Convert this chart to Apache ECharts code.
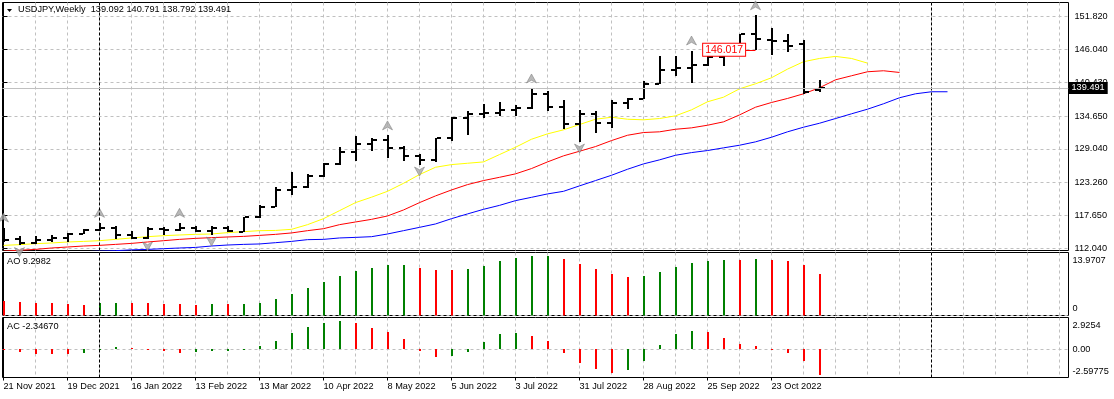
<!DOCTYPE html>
<html>
<head>
<meta charset="utf-8">
<title>USDJPY Weekly</title>
<script src="https://cdn.jsdelivr.net/npm/echarts@6/dist/echarts.min.js"></script>
<style>
html, body { margin: 0; padding: 0; background: #fff; }
#chart { width: 1114px; height: 399px; }
</style>
</head>
<body>
<div id="chart"></div>
<script>
// weekly bars, 21 Nov 2021 .. 13 Nov 2022 (index = week number)
const opens  = [114.05,113.60,112.85,113.45,113.70,114.45,115.10,115.55,114.20,113.75,
                115.25,115.20,115.40,114.95,115.50,114.85,117.30,119.15,122.05,122.50,
                124.35,126.45,128.45,129.80,130.55,129.25,127.85,127.10,130.85,134.40,
                134.95,135.20,135.70,136.10,138.45,136.15,133.30,135.00,133.45,136.85,
                137.60,140.20,142.55,142.90,143.35,144.75,145.30,148.65,147.70,147.60,
                147.00,139.092];
const highs  = [115.55,114.10,114.05,114.30,114.55,115.25,116.35,115.80,114.95,115.70,
                115.70,116.35,115.80,115.80,115.80,117.30,119.45,122.45,125.10,124.75,
                126.60,129.35,131.25,130.85,131.35,129.60,128.15,130.95,134.50,135.60,
                136.75,137.00,136.55,139.39,138.90,137.50,135.70,135.60,137.40,137.75,
                140.75,145.00,145.00,145.90,144.90,145.35,148.80,151.94,149.70,148.80,
                147.65,140.791];
const lows   = [113.15,112.55,112.70,113.10,113.15,114.40,115.00,113.50,113.50,113.50,
                114.20,114.90,114.75,114.35,114.80,114.80,117.20,119.10,121.20,122.40,
                124.15,126.35,126.90,128.70,127.50,126.90,126.35,126.85,130.45,131.40,
                134.25,134.60,134.75,135.85,135.60,132.45,130.30,131.75,132.55,135.80,
                137.55,140.10,141.60,140.30,143.20,143.30,145.30,146.05,145.10,145.70,
                138.50,138.792];
const closes = [113.40,112.85,113.45,113.70,114.40,115.10,115.55,114.20,113.75,115.25,
                115.20,115.40,114.95,115.50,114.90,117.30,119.15,122.05,122.50,124.35,
                126.45,128.45,129.80,130.55,129.25,127.85,127.10,130.85,134.40,134.95,
                135.20,135.70,136.10,138.50,136.15,133.30,135.00,133.45,136.85,137.60,
                140.20,142.55,142.90,143.35,144.75,145.30,148.70,147.85,147.50,146.70,
                138.85,139.491];

// alligator lines (shifted into the future)
const jaw   = [110.90,111.00,111.10,111.20,111.30,111.40,111.50,111.58,111.72,111.80,
               111.92,112.04,112.14,112.38,112.55,112.66,112.73,112.95,113.17,113.47,
               113.52,113.76,113.86,113.98,114.44,115.01,115.58,116.16,117.07,117.88,
               118.67,119.35,120.16,120.73,121.31,121.76,122.69,123.60,124.51,125.54,
               126.46,127.15,127.94,128.40,128.75,129.21,129.66,130.24,131.03,131.96,
               132.75,133.43,134.24,135.05,135.84,136.77,137.80,138.48,138.83,138.83];
const teeth = [111.50,111.65,111.80,112.04,112.21,112.38,112.49,112.66,112.83,113.07,
               113.29,113.52,113.69,113.81,113.93,114.03,114.20,114.38,114.62,115.01,
               115.35,116.04,116.50,116.95,117.53,118.56,119.82,120.97,121.99,122.91,
               123.60,124.16,124.75,125.66,126.80,127.84,128.63,129.43,130.46,131.37,
               131.84,131.96,132.40,132.64,133.09,133.67,134.86,136.18,136.99,137.68,
               138.48,139.51,140.88,141.57,142.26,142.43,142.14];
const lips  = [112.49,112.61,112.78,112.90,113.07,113.17,113.29,113.52,113.76,113.98,
               114.15,114.27,114.38,114.44,114.67,114.84,115.01,115.05,115.24,116.04,
               117.07,118.44,119.82,120.75,121.76,123.13,124.63,125.88,126.34,126.57,
               126.80,128.06,129.31,130.69,131.61,132.30,133.21,134.12,134.46,134.12,
               134.02,134.24,134.70,135.73,137.11,137.90,139.33,140.20,141.23,142.71,
               143.98,144.54,144.89,144.54,143.74];

const fractalUp = [0, 6, 11, 24, 33, 43, 47];
const fractalDown = [1, 9, 13, 26, 36];

const aoValues = [3.21,2.99,2.86,2.84,2.62,2.40,2.83,2.88,2.85,2.83,
                  2.63,2.60,2.40,2.60,2.58,2.62,2.85,3.73,4.84,6.17,
                  7.50,8.83,9.94,10.61,11.27,11.30,10.61,10.18,10.14,10.38,
                  11.05,12.16,12.82,13.27,13.30,12.60,11.49,10.38,9.28,8.61,
                  8.83,9.72,10.83,11.71,12.16,12.38,12.36,12.60,12.38,12.16,
                  11.27,9.2982];
const acValues = [-0.06,-0.25,-0.42,-0.44,-0.46,-0.34,-0.06,0.18,0.09,0.06,
                  -0.15,-0.34,-0.25,-0.15,-0.12,-0.06,0.28,0.74,1.47,2.02,
                  2.39,2.58,2.39,1.93,1.56,0.92,-0.18,-0.74,-0.64,-0.28,
                  0.64,1.38,1.47,1.20,0.74,-0.37,-1.29,-1.84,-2.21,-1.93,
                  -1.10,0.37,1.38,1.66,1.56,1.01,0.46,0.28,-0.03,-0.37,
                  -1.10,-2.3467];

const priceTicks = [112.04, 117.65, 123.26, 129.04, 134.65, 140.43, 146.04, 151.82];
const aoTicks = [0, 13.9707];
const aoTickLabels = ['0', '13.9707'];
const acTicks = [-2.59775, 0, 2.9254];
const acTickLabels = ['-2.59775', '0.00', '2.9254'];
const dateTicks = [0, 4, 8, 12, 16, 20, 24, 28, 32, 36, 40, 44, 48];
const dateLabels = ['21 Nov 2021', '19 Dec 2021', '16 Jan 2022', '13 Feb 2022', '13 Mar 2022',
                    '10 Apr 2022', '8 May 2022', '5 Jun 2022', '3 Jul 2022', '31 Jul 2022',
                    '28 Aug 2022', '25 Sep 2022', '23 Oct 2022'];
const yearSeparators = [6, 58];
const labelLevel = 146.017;

const FONT = 'Liberation Sans';
const FS = 9.2;
const GREEN = '#008000';
const RED = '#ff0000';
const GRID_GREY = '#c0c0c0';

const n = closes.length;
const last = n - 1;

// every second week gets a vertical grid line
const gridWeeks = [];
for (let w = 2; w <= 66; w += 2) gridWeeks.push(w);

const ohlcData = closes.map((c, i) => [i, opens[i], highs[i], lows[i], c]);
const toPairs = arr => arr.map((v, i) => [i, v]);
const withTrend = arr => arr.map((v, i) => [i, v, i > 0 && v > arr[i - 1] ? 1 : 0]);

function renderOhlc(params, api) {
    const i = api.value(0);
    const o = api.coord([i, api.value(1)]);
    const h = api.coord([i, api.value(2)]);
    const l = api.coord([i, api.value(3)]);
    const c = api.coord([i, api.value(4)]);
    const x = Math.round(h[0]) - 1;
    const yh = Math.round(h[1]);
    const yl = Math.round(l[1]);
    return {
        type: 'group',
        children: [
            {type: 'rect', shape: {x: x, y: yh, width: 2, height: Math.max(1, yl - yh)}, style: {fill: '#000'}},
            {type: 'rect', shape: {x: x - 4, y: Math.round(o[1]) - 1, width: 4, height: 2}, style: {fill: '#000'}},
            {type: 'rect', shape: {x: x + 2, y: Math.round(c[1]) - 1, width: 4, height: 2}, style: {fill: '#000'}}
        ]
    };
}

function renderHist(params, api) {
    const i = api.value(0);
    const p0 = api.coord([i, 0]);
    const p1 = api.coord([i, api.value(1)]);
    const y0 = Math.round(Math.min(p0[1], p1[1]));
    const y1 = Math.round(Math.max(p0[1], p1[1]));
    return {
        type: 'rect',
        shape: {x: Math.round(p0[0]) - 1, y: y0, width: 2, height: Math.max(1, y1 - y0)},
        style: {fill: api.value(2) ? GREEN : RED}
    };
}

function xAxisFor(gridIndex) {
    return {
        type: 'value', gridIndex: gridIndex, min: -0.0625, max: 66.5625,
        axisLine: {show: false},
        axisLabel: {show: false},
        axisTick: {show: false, customValues: gridWeeks},
        splitLine: {show: true, lineStyle: {color: GRID_GREY, type: [3, 3], width: 1}}
    };
}

const separatorLines = yearSeparators.map(w => ({
    xAxis: w,
    lineStyle: {color: '#000', type: [3, 2], width: 1},
    label: {show: false}
}));

const labelText = {fontFamily: FONT, fontSize: FS, color: '#000'};

const option = {
    animation: false,
    backgroundColor: '#fff',
    textStyle: {fontFamily: FONT},
    title: [
        {
            text: 'USDJPY,Weekly  ' + [opens[last], highs[last], lows[last], closes[last]].map(v => v.toFixed(3)).join(' '),
            left: 18, top: 4.5, padding: 0,
            textStyle: {fontFamily: FONT, fontSize: FS, fontWeight: 'normal', color: '#000'}
        },
        {
            text: 'AO ' + aoValues[last].toFixed(4),
            left: 7, top: 256.5, padding: 0,
            textStyle: {fontFamily: FONT, fontSize: FS, fontWeight: 'normal', color: '#000'}
        },
        {
            text: 'AC ' + acValues[last].toFixed(5),
            left: 7, top: 321.5, padding: 0,
            textStyle: {fontFamily: FONT, fontSize: FS, fontWeight: 'normal', color: '#000'}
        }
    ],
    graphic: [
        {type: 'polygon', shape: {points: [[7, 9], [12, 9], [9.5, 12]]}, style: {fill: '#000'}}
    ],
    grid: [
        {left: 2.5, top: 2.5, width: 1066, height: 248, show: true, borderColor: '#000', borderWidth: 1, backgroundColor: 'transparent', containLabel: false, outerBoundsMode: 'none'},
        {left: 2.5, top: 252.5, width: 1066, height: 63, show: true, borderColor: '#000', borderWidth: 1, backgroundColor: 'transparent', containLabel: false, outerBoundsMode: 'none'},
        {left: 2.5, top: 317.5, width: 1066, height: 60, show: true, borderColor: '#000', borderWidth: 1, backgroundColor: 'transparent', containLabel: false, outerBoundsMode: 'none'}
    ],
    xAxis: [
        xAxisFor(0),
        xAxisFor(1),
        xAxisFor(2),
        {
            type: 'value', gridIndex: 2, position: 'bottom', min: -0.0625, max: 66.5625,
            axisLine: {show: false},
            splitLine: {show: false},
            axisTick: {show: true, length: 3, customValues: dateTicks, lineStyle: {color: '#000'}},
            axisLabel: Object.assign({
                show: true, customValues: dateTicks, align: 'left', margin: 4,
                formatter: v => dateLabels[dateTicks.indexOf(v)]
            }, labelText)
        }
    ],
    yAxis: [
        {
            type: 'value', gridIndex: 0, position: 'right', min: 111.61, max: 154.135,
            axisLine: {show: true, lineStyle: {color: '#000'}},
            axisTick: {show: true, length: 4, customValues: priceTicks, lineStyle: {color: '#000'}},
            axisLabel: Object.assign({customValues: priceTicks, margin: 6, formatter: v => v.toFixed(3)}, labelText),
            splitLine: {show: true, lineStyle: {color: GRID_GREY, type: [3, 3], width: 1}}
        },
        {
            type: 'value', gridIndex: 1, position: 'right', min: 0, max: 13.9707,
            axisLine: {show: true, lineStyle: {color: '#000'}},
            axisTick: {show: false, customValues: aoTicks},
            axisLabel: Object.assign({
                customValues: aoTicks, margin: 4,
                formatter: v => (v === 0 ? '{lo|' : '{hi|') + aoTickLabels[aoTicks.indexOf(v)] + '}',
                rich: {
                    lo: Object.assign({padding: [0, 0, 14, 0]}, labelText),
                    hi: Object.assign({padding: [15, 0, 0, 0]}, labelText)
                }
            }, labelText),
            splitLine: {show: true, showMaxLine: false, lineStyle: {color: GRID_GREY, type: [3, 3], width: 1}}
        },
        {
            type: 'value', gridIndex: 2, position: 'right', min: -2.59775, max: 2.9254,
            axisLine: {show: true, lineStyle: {color: '#000'}},
            axisTick: {show: false, customValues: acTicks},
            axisLabel: Object.assign({
                customValues: acTicks, margin: 4,
                formatter: v => {
                    const k = acTicks.indexOf(v);
                    const tag = k === 0 ? 'lo' : (k === 2 ? 'hi' : 'mid');
                    return '{' + tag + '|' + acTickLabels[k] + '}';
                },
                rich: {
                    lo: Object.assign({padding: [0, 0, 12, 0]}, labelText),
                    mid: Object.assign({}, labelText),
                    hi: Object.assign({padding: [15, 0, 0, 0]}, labelText)
                }
            }, labelText),
            splitLine: {show: true, showMinLine: false, showMaxLine: false, lineStyle: {color: GRID_GREY, type: [3, 3], width: 1}}
        }
    ],
    series: [
        {
            name: 'USDJPY', type: 'custom', xAxisIndex: 0, yAxisIndex: 0,
            renderItem: renderOhlc, clip: true, z: 3,
            encode: {x: 0, y: [1, 2, 3, 4]},
            data: ohlcData
        },
        {
            name: 'Jaw', type: 'line', xAxisIndex: 0, yAxisIndex: 0,
            data: toPairs(jaw), showSymbol: false, symbol: 'none', silent: true, z: 2,
            lineStyle: {color: '#0000ff', width: 1}
        },
        {
            name: 'Teeth', type: 'line', xAxisIndex: 0, yAxisIndex: 0,
            data: toPairs(teeth), showSymbol: false, symbol: 'none', silent: true, z: 2,
            lineStyle: {color: '#ff0000', width: 1}
        },
        {
            name: 'Lips', type: 'line', xAxisIndex: 0, yAxisIndex: 0,
            data: toPairs(lips), showSymbol: false, symbol: 'none', silent: true, z: 2,
            lineStyle: {color: '#ffff00', width: 1},
            markLine: {
                silent: true, symbol: ['none', 'none'], animation: false,
                data: separatorLines.concat([
                    {
                        yAxis: closes[last],
                        lineStyle: {color: GRID_GREY, type: 'solid', width: 1},
                        label: Object.assign({
                            show: true, position: 'end', distance: 0,
                            formatter: closes[last].toFixed(3),
                            backgroundColor: '#000', padding: [2, 3, 1, 3]
                        }, labelText, {color: '#fff'})
                    },
                    [
                        {
                            coord: [46.35, labelLevel],
                            lineStyle: {color: RED, type: 'solid', width: 1},
                            label: {
                                show: true, position: 'start', distance: 0,
                                formatter: labelLevel.toFixed(3),
                                fontFamily: FONT, fontSize: 10.5, color: RED,
                                backgroundColor: '#fff', borderColor: RED, borderWidth: 1,
                                padding: [1, 2, 0, 2]
                            }
                        },
                        {coord: [47, labelLevel]}
                    ]
                ])
            }
        },
        {
            name: 'Fractal up', type: 'scatter', xAxisIndex: 0, yAxisIndex: 0,
            data: fractalUp.map(i => [i, highs[i]]),
            symbol: 'path://M0,10L5,0L10,10L5,7Z', symbolSize: [10, 9], symbolOffset: [0, -10],
            itemStyle: {color: '#a8a8a8', borderColor: '#707070', borderWidth: 0.6}, silent: true, z: 4
        },
        {
            name: 'Fractal down', type: 'scatter', xAxisIndex: 0, yAxisIndex: 0,
            data: fractalDown.map(i => [i, lows[i]]),
            symbol: 'path://M0,0L5,10L10,0L5,3Z', symbolSize: [10, 9], symbolOffset: [0, 7],
            itemStyle: {color: '#a8a8a8', borderColor: '#707070', borderWidth: 0.6}, silent: true, z: 4
        },
        {
            name: 'AO', type: 'custom', xAxisIndex: 1, yAxisIndex: 1,
            renderItem: renderHist, clip: true,
            encode: {x: 0, y: 1},
            data: withTrend(aoValues)
        },
        {
            name: 'AC', type: 'custom', xAxisIndex: 2, yAxisIndex: 2,
            renderItem: renderHist, clip: true,
            encode: {x: 0, y: 1},
            data: withTrend(acValues)
        },
        {
            name: 'sep-ao', type: 'line', xAxisIndex: 1, yAxisIndex: 1, data: [], silent: true,
            markLine: {silent: true, symbol: ['none', 'none'], animation: false, data: separatorLines}
        },
        {
            name: 'sep-ac', type: 'line', xAxisIndex: 2, yAxisIndex: 2, data: [], silent: true,
            markLine: {silent: true, symbol: ['none', 'none'], animation: false, data: separatorLines}
        }
    ]
};

const myChart = echarts.init(document.getElementById('chart'));
myChart.setOption(option);
</script>
</body>
</html>
